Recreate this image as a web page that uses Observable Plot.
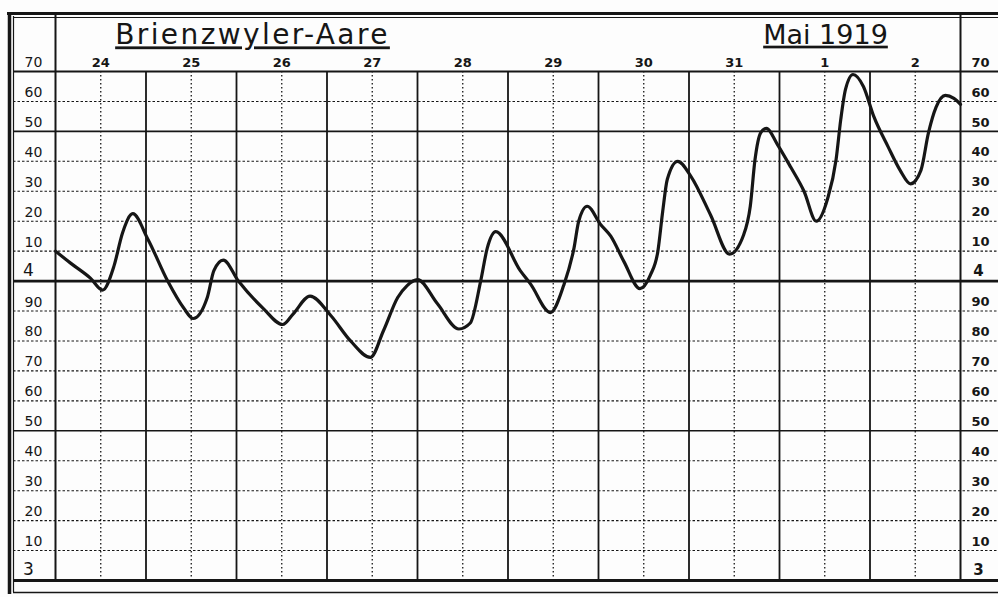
<!DOCTYPE html>
<html>
<head>
<meta charset="utf-8">
<script src="https://cdn.jsdelivr.net/npm/d3@7"></script>
<script src="https://cdn.jsdelivr.net/npm/@observablehq/plot@0.6"></script>
<style>
  html, body { margin: 0; padding: 0; background: #fdfdfd; }
  #chart svg { display: block; }
</style>
</head>
<body>
<div id="chart"></div>
<script>
// ---- data ----
const station = "Brienzwyler-Aare";
const period = "Mai 1919";

const times = [
  "1919-05-24 00:00","1919-05-24 04:00","1919-05-24 09:15","1919-05-24 12:30","1919-05-24 15:30","1919-05-24 17:45","1919-05-24 20:30",
  "1919-05-25 00:30","1919-05-25 05:45","1919-05-25 10:00","1919-05-25 12:30","1919-05-25 16:15","1919-05-25 18:00","1919-05-25 20:30",
  "1919-05-26 00:30","1919-05-26 07:00","1919-05-26 12:15","1919-05-26 15:00","1919-05-26 19:30",
  "1919-05-27 01:00","1919-05-27 06:15","1919-05-27 11:30","1919-05-27 15:00","1919-05-27 18:45","1919-05-27 21:15",
  "1919-05-28 00:00","1919-05-28 05:15","1919-05-28 11:00","1919-05-28 14:00","1919-05-28 16:45","1919-05-28 18:30","1919-05-28 20:45",
  "1919-05-29 03:15","1919-05-29 06:00","1919-05-29 11:15","1919-05-29 14:45","1919-05-29 17:30","1919-05-29 18:45","1919-05-29 21:00",
  "1919-05-30 00:30","1919-05-30 03:15","1919-05-30 06:45","1919-05-30 11:00","1919-05-30 13:45","1919-05-30 15:45","1919-05-30 17:00","1919-05-30 18:15","1919-05-30 21:00",
  "1919-05-31 00:30","1919-05-31 05:45","1919-05-31 10:45","1919-05-31 14:30","1919-05-31 16:15","1919-05-31 17:30","1919-05-31 19:00","1919-05-31 20:30","1919-05-31 23:30",
  "1919-06-01 03:00","1919-06-01 06:30","1919-06-01 09:45","1919-06-01 12:45","1919-06-01 15:00","1919-06-01 16:15","1919-06-01 17:30","1919-06-01 19:30","1919-06-01 22:15",
  "1919-06-02 01:00","1919-06-02 04:45","1919-06-02 08:00","1919-06-02 10:45","1919-06-02 13:30","1919-06-02 15:30","1919-06-02 17:30","1919-06-02 20:00","1919-06-02 22:15",
  "1919-06-03 00:00"
];
const levels = [
  4.10, 4.06, 4.01, 3.97, 4.05, 4.16, 4.225,
  4.14, 4.00, 3.91, 3.875, 3.945, 4.035, 4.07,
  4.00, 3.91, 3.855, 3.89, 3.95,
  3.885, 3.80, 3.745, 3.835, 3.945, 3.985,
  4.005, 3.925, 3.84, 3.86, 4.00, 4.11, 4.165,
  4.035, 3.99, 3.895, 3.985, 4.11, 4.20, 4.25,
  4.19, 4.15, 4.065, 3.975, 4.02, 4.10, 4.23, 4.34, 4.40,
  4.35, 4.22, 4.09, 4.155, 4.25, 4.405, 4.495, 4.51, 4.455,
  4.38, 4.30, 4.20, 4.275, 4.405, 4.54, 4.64, 4.69, 4.65,
  4.55, 4.45, 4.37, 4.325, 4.37, 4.495, 4.58, 4.62, 4.61,
  4.59
];

const dayLabels = ["24","25","26","27","28","29","30","31","1","2"];
const dayNoons = [
  "1919-05-24 12:00","1919-05-25 12:00","1919-05-26 12:00","1919-05-27 12:00","1919-05-28 12:00",
  "1919-05-29 12:00","1919-05-30 12:00","1919-05-31 12:00","1919-06-01 12:00","1919-06-02 12:00"
];
const dayBounds = [
  "1919-05-24 00:00","1919-05-25 00:00","1919-05-26 00:00","1919-05-27 00:00","1919-05-28 00:00","1919-05-29 00:00",
  "1919-05-30 00:00","1919-05-31 00:00","1919-06-01 00:00","1919-06-02 00:00","1919-06-03 00:00"
];
const levelTicks = [4.7, 4.6, 4.5, 4.4, 4.3, 4.2, 4.1, 4.0, 3.9, 3.8, 3.7, 3.6, 3.5, 3.4, 3.3, 3.2, 3.1, 3.0];
const levelTickLabels = ["70","60","50","40","30","20","10","4","90","80","70","60","50","40","30","20","10","3"];
const boldLevels = [4.5, 3.5];
const metreLevels = [4.0];

// ---- build ----
const parse = d3.utcParse("%Y-%m-%d %H:%M");
const series = times.map((t, i) => ({t: parse(t), v: levels[i]}));
const days = dayNoons.map((t, i) => ({t: parse(t), label: dayLabels[i]}));
const bounds = dayBounds.map(parse);
const ticks = levelTicks.map((v, i) => ({v, label: levelTickLabels[i]}));
const yTop = levelTicks[0], yBottom = levelTicks[levelTicks.length - 1];
const dottedLevels = levelTicks.filter(v => !boldLevels.includes(v) && !metreLevels.includes(v) && v !== yTop && v !== yBottom);
const smallTicks = ticks.filter(d => d.label.length > 1);
const bigTicks = ticks.filter(d => d.label.length === 1);
const xFirst = bounds[0], xLast = bounds[bounds.length - 1];

const ink = "#161616";
const font = "DejaVu Sans";

const chart = Plot.plot({
  width: 998,
  height: 597,
  marginLeft: 55,
  marginRight: 38,
  marginTop: 71,
  marginBottom: 17,
  style: {background: "#fdfdfd", fontFamily: font, color: ink},
  x: {type: "utc", domain: [xFirst, xLast], axis: null},
  y: {domain: [yBottom, yTop], axis: null},
  marks: [
    // outer border (thick + thin inner line)
    Plot.ruleX([xFirst], {stroke: ink, strokeWidth: 3.5, dx: -46, insetTop: -59, insetBottom: -14}),
    Plot.ruleX([xFirst], {stroke: ink, strokeWidth: 1.2, dx: -42, insetTop: -55, insetBottom: -12}),
    Plot.ruleY([yTop], {stroke: ink, strokeWidth: 3, dy: -58, insetLeft: -48, insetRight: -45}),
    Plot.ruleY([yTop], {stroke: ink, strokeWidth: 1.2, dy: -54, insetLeft: -42, insetRight: -45}),
    Plot.ruleY([yBottom], {stroke: ink, strokeWidth: 1.4, dy: 12, insetLeft: -42, insetRight: -45}),
    // dotted grid
    Plot.ruleY(dottedLevels, {stroke: ink, strokeWidth: 1.1, strokeDasharray: "2.5,2", insetLeft: -42, insetRight: -40}),
    Plot.ruleX(days, {x: "t", stroke: ink, strokeWidth: 1.3, strokeDasharray: "1.6,2.4"}),
    // solid grid
    Plot.ruleX(bounds.slice(1, -1), {stroke: ink, strokeWidth: 1.8}),
    Plot.ruleX([xFirst, xLast], {stroke: ink, strokeWidth: 2, insetTop: -57}),
    Plot.ruleY(boldLevels, {stroke: ink, strokeWidth: 1.6, insetLeft: -42, insetRight: -40}),
    Plot.ruleY(metreLevels, {stroke: ink, strokeWidth: 2.6, insetLeft: -42, insetRight: -40}),
    Plot.ruleY([yTop], {stroke: ink, strokeWidth: 2.2, insetLeft: -42, insetRight: -40}),
    Plot.ruleY([yBottom], {stroke: ink, strokeWidth: 3.2, insetLeft: -42, insetRight: -40}),
    // water level curve
    Plot.line(series, {x: "t", y: "v", curve: "monotone-x", stroke: ink, strokeWidth: 3.2, strokeLinejoin: "round", strokeLinecap: "round"}),
    // left & right level labels
    Plot.text(smallTicks, {y: "v", text: "label", frameAnchor: "left", dx: -22, dy: -9, textAnchor: "middle", fontSize: 14, fill: ink}),
    Plot.text(bigTicks, {y: "v", text: "label", frameAnchor: "left", dx: -27, dy: -11, textAnchor: "middle", fontSize: 17, fill: ink}),
    Plot.text(smallTicks, {y: "v", text: "label", frameAnchor: "right", dx: 20, dy: -9, textAnchor: "middle", fontSize: 13, fontWeight: "bold", fill: ink}),
    Plot.text(bigTicks, {y: "v", text: "label", frameAnchor: "right", dx: 18, dy: -10, textAnchor: "middle", fontSize: 15, fontWeight: "bold", fill: ink}),
    // day labels
    Plot.text(days, {x: "t", text: "label", frameAnchor: "top", dy: -14, fontSize: 13, fontWeight: "bold", fill: ink}),
    // titles
    Plot.text([station], {frameAnchor: "top-left", dx: 197, dy: -47, textAnchor: "middle", fontSize: 28, fill: ink}),
    Plot.text([period], {frameAnchor: "top-right", dx: -135, dy: -47, textAnchor: "middle", fontSize: 27, fill: ink})
  ]
});

d3.select(chart).selectAll("text")
  .filter(function() { return this.textContent === station || this.textContent === period; })
  .style("text-decoration", "underline");
d3.select(chart).selectAll("text")
  .filter(function() { return this.textContent === station; })
  .style("letter-spacing", "2.4px");

document.getElementById("chart").appendChild(chart);
</script>
</body>
</html>
